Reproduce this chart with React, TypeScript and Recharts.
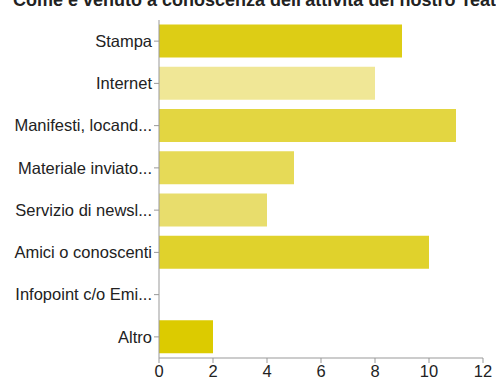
import { BarChart, Bar, XAxis, YAxis, Cell } from 'recharts';

const categories = [
  'Stampa',
  'Internet',
  'Manifesti, locand...',
  'Materiale inviato...',
  'Servizio di newsl...',
  'Amici o conoscenti',
  'Infopoint c/o Emi...',
  'Altro',
];
const counts = [9, 8, 11, 5, 4, 10, 0, 2];
const barColors = [
  '#DDCD15',
  '#F0E796',
  '#E3D641',
  '#E6DA57',
  '#E8DD6C',
  '#E0D22C',
  '#EBE080',
  '#DCCB00',
];
const xTicks = [0, 2, 4, 6, 8, 10, 12];

const title = "Come è venuto a conoscenza dell'attività del nostro Teatro?";

export default function App() {
  const data = categories.map((name, i) => ({ name, value: counts[i] }));

  return (
    <div
      style={{
        position: 'absolute',
        top: 0,
        left: 0,
        width: 496,
        height: 381,
        overflow: 'hidden',
        background: '#fff',
        fontFamily: '"Liberation Sans", Arial, sans-serif',
      }}
    >
      <div
        style={{
          position: 'absolute',
          top: -10,
          left: 13,
          whiteSpace: 'nowrap',
          fontWeight: 'bold',
          fontSize: 18,
          lineHeight: '20px',
          color: '#222',
        }}
      >
        {title}
      </div>
      <BarChart
        width={496}
        height={381}
        data={data}
        layout="vertical"
        margin={{ top: 20, right: 13, left: 0, bottom: 0 }}
        barCategoryGap={4.5}
      >
        <XAxis
          type="number"
          domain={[0, 12]}
          ticks={xTicks}
          height={23}
          tick={{ fontSize: 16.5, fill: '#222' }}
          tickSize={5}
          stroke="#999"
        />
        <YAxis
          type="category"
          dataKey="name"
          width={159}
          tick={{ fontSize: 16.5, fill: '#222' }}
          tickSize={5}
          stroke="#999"
          interval={0}
        />
        <Bar dataKey="value" isAnimationActive={false}>
          {data.map((d, i) => (
            <Cell key={d.name} fill={barColors[i]} />
          ))}
        </Bar>
      </BarChart>
    </div>
  );
}
